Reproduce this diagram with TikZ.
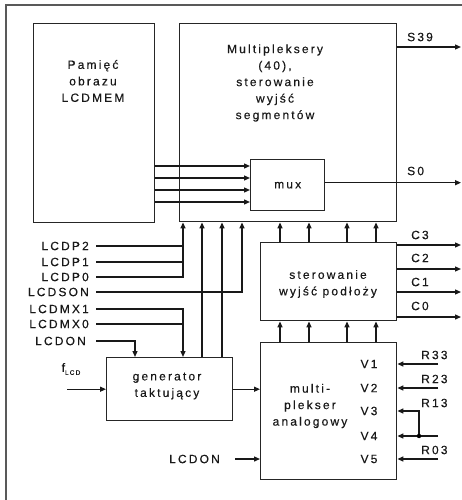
\documentclass[tikz,border=0pt]{standalone}
\usepackage{fontspec}
\setmainfont{Liberation Sans}[LetterSpace=18, FakeBold=0.4]
\usetikzlibrary{arrows.meta,positioning}

\begin{document}
\begin{tikzpicture}[
  x=1pt, y=-1pt,
  blk/.style={draw=black!85, line width=1.4pt, inner sep=0pt, anchor=north west},
  txt/.style={align=center, inner sep=0pt, font=\fontsize{12}{16.5}\selectfont, text=black!90},
  lbl/.style={inner sep=0pt, font=\fontsize{12}{12}\selectfont, text=black!90},
  wire/.style={line width=1.3pt, black!90},
  arr/.style={wire, -{Triangle[length=6pt,width=5pt]}}
]
\useasboundingbox (0,0) rectangle (462,500);
\clip (0,0) rectangle (462,500);
\draw[black!65, line width=2pt] (6,5) rectangle (480,520);

% bloki
\node[blk, minimum width=121pt, minimum height=199pt] (mem) at (33,23) {};
\node[blk, minimum width=217pt, minimum height=198pt] (mplx) at (179,23) {};
\node[blk, minimum width=74pt, minimum height=51pt] (mux) at (250,159) {};
\node[blk, minimum width=136pt, minimum height=78pt] (ster) at (260,242) {};
\node[blk, minimum width=136pt, minimum height=137pt] (amux) at (260,342) {};
\node[blk, minimum width=126pt, minimum height=63pt] (gen) at (106,357) {};

\node[txt] (memtxt) at (93,81) {Pamięć\\obrazu\\LCDMEM};
\node[txt] (mplxtxt) at (275,83) {Multipleksery\\(40),\\sterowanie\\wyjść\\segmentów};
\node[txt] (muxtxt) at (mux.center) {mux};
\node[txt] (gentxt) at (167,386) {generator\\taktujący};
\node[txt] (stertxt) at (328,284) {sterowanie\\wyjść podłoży};
\node[txt] (amuxtxt) at (310,406) {multi-\\plekser\\analogowy};
\foreach \i/\y in {1/364,2/388,3/411,4/436,5/459}
  \node[lbl] (v\i) at (369,\y) {V\i};

% etykiety
\foreach \n/\t/\y in {p2/LCDP2/246, p1/LCDP1/262, p0/LCDP0/277, son/LCDSON/292, mx1/LCDMX1/309, mx0/LCDMX0/324}
  \node[lbl, anchor=east] (\n) at (89,\y) {\t};
\node[lbl, anchor=east] (on) at (86,341) {LCDON};
\node[lbl, anchor=east] (on2) at (220,459) {LCDON};
\node[lbl] (flcd) at (71,369) {f\raisebox{-3pt}{\fontsize{6.5}{6.5}\selectfont LCD}};
\node[lbl, anchor=west] (s39) at (407,37) {S39};
\node[lbl, anchor=west] (s0) at (407,171) {S0};
\foreach \i/\y in {3/235,2/258,1/282,0/306}
  \node[lbl, anchor=west] (c\i) at (411,\y) {C\i};
\foreach \n/\t/\y in {r33/R33/355, r23/R23/379, r13/R13/403, r03/R03/450}
  \node[lbl, anchor=west] (\n) at (421,\y) {\t};

\coordinate (lin) at (96,0);
\coordinate (lin2) at (235,0);
\coordinate (fin) at (67,0);
\coordinate (rgt) at (461,0);
\coordinate (rin) at (438,0);
\coordinate (rj) at (419,0);

% wejscia sterujace
\draw[arr] (lin |- p0) -| ([xshift=4pt]mplx.south west);
\foreach \n in {p2,p1}
  \draw[wire] (lin |- \n) -- ([xshift=4pt]mplx.south west |- \n);
\draw[arr] (lin |- son) -| ([xshift=63pt]mplx.south west);
\draw[arr] (lin |- mx1) -| ([xshift=77pt]gen.north west);
\draw[wire] (lin |- mx0) -- ([xshift=77pt]gen.north west |- mx0);
\draw[arr] (lin |- on) -| ([xshift=29pt]gen.north west);
\draw[arr] (fin |- gen.west) -- (gen.west);
\draw[arr] (lin2 |- on2) -- (amux.west |- on2);

% polaczenia miedzy blokami
\foreach \dy in {7,19,31,43}
  \draw[arr] ([yshift=-\dy pt]mux.north west -| mem.east) -- ([yshift=-\dy pt]mux.north west);
\foreach \dx in {96,116}
  \draw[arr] ([xshift=\dx pt]gen.north west) -- ([xshift=\dx pt]gen.north west |- mplx.south);
\foreach \dx in {20,49,87,116} {
  \draw[arr] ([xshift=\dx pt]ster.north west) -- ([xshift=\dx pt]ster.north west |- mplx.south);
  \draw[arr] ([xshift=\dx pt]amux.north west) -- ([xshift=\dx pt]amux.north west |- ster.south);
}
\draw[arr] (gen.east) -- (gen.east -| amux.west);

% wyjscia
\draw[arr] ([yshift=-24pt]mplx.north east) -- ([yshift=-24pt]mplx.north east -| rgt);
\draw[arr] ([yshift=2.5pt]mux.east) -- ([yshift=2.5pt]mux.east -| rgt);
\foreach \dy in {3,27,50,75}
  \draw[arr] ([yshift=-\dy pt]ster.north east) -- ([yshift=-\dy pt]ster.north east -| rgt);

% napiecia
\foreach \i in {1,2,4,5}
  \draw[arr] (rin |- v\i) -- (amux.east |- v\i);
\draw[arr] (rj |- v4) |- (amux.east |- v3);
\fill (rj |- v4) circle (2.2pt);
\end{tikzpicture}
\end{document}
